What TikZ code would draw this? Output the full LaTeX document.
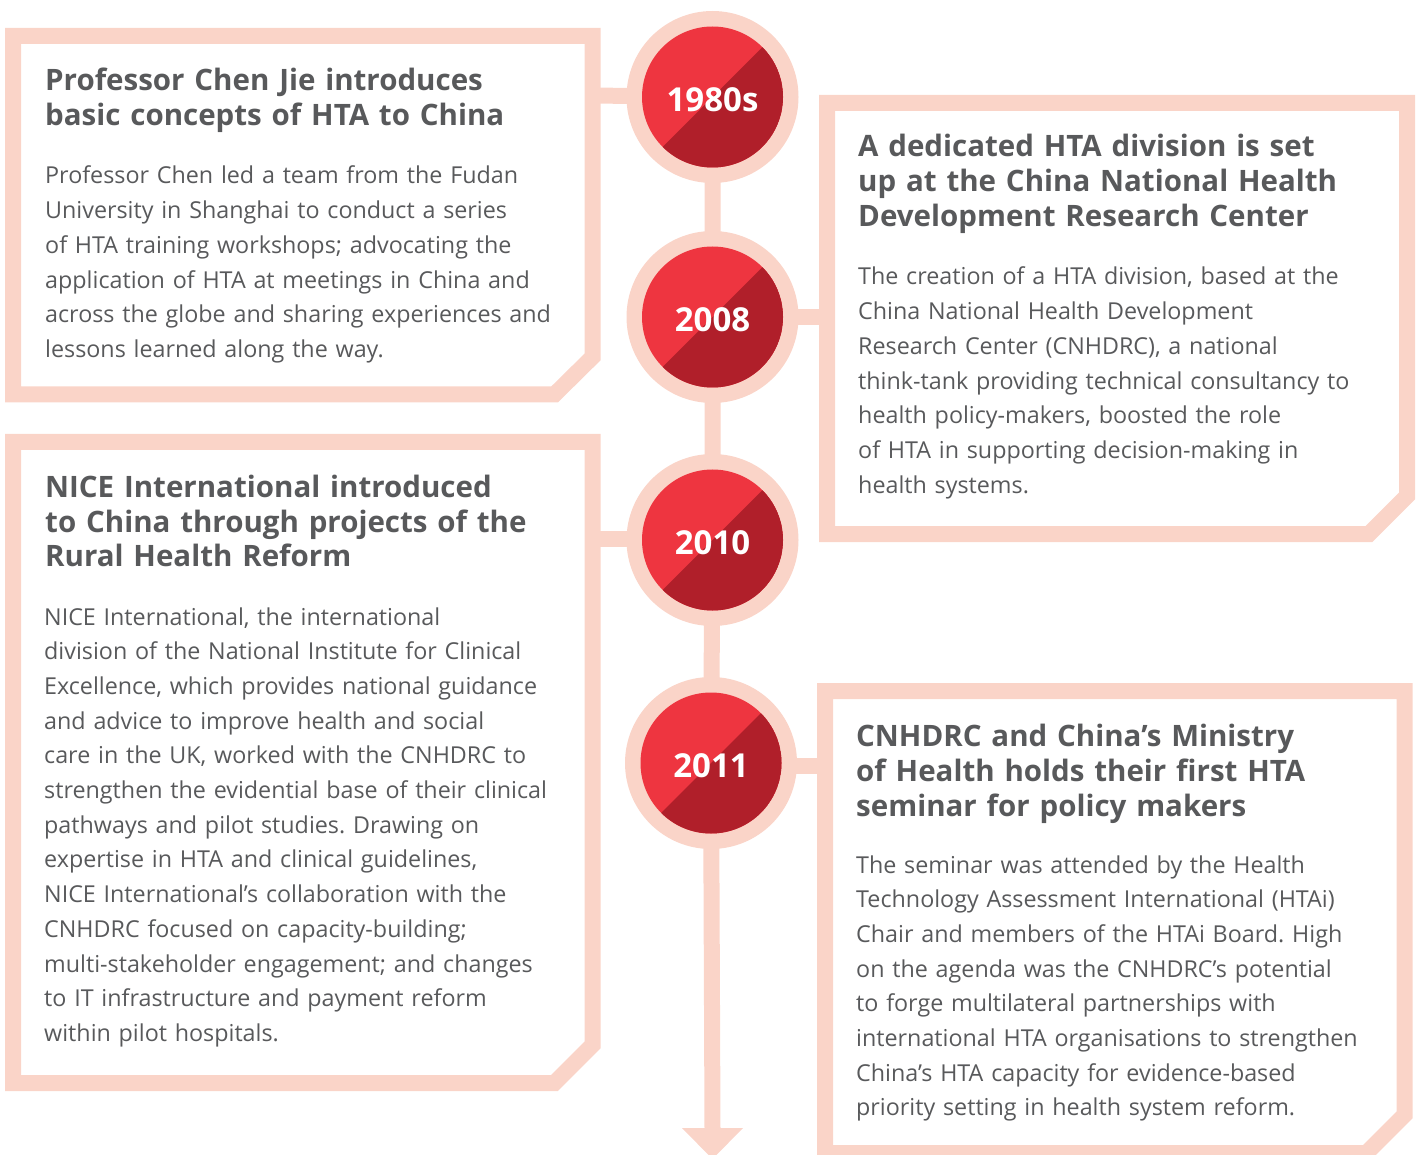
\documentclass[tikz,border=0pt]{standalone}
\usepackage{fontspec}
\setmainfont{Open Sans}
\usetikzlibrary{calc}
\frenchspacing
\definecolor{peach}{HTML}{FAD4C8}
\definecolor{lightred}{HTML}{EE3540}
\definecolor{darkred}{HTML}{B01F2A}
\definecolor{txtgray}{HTML}{58595B}
\tikzset{
  frame/.style={draw=peach,line width=16pt,miter limit=10,line join=miter},
  spine/.style={draw=peach,line width=16pt},
  ring/.style={circle,fill=peach,minimum size=172pt,inner sep=0pt},
  yeartext/.style={text=white,font=\fontsize{33}{33}\selectfont\bfseries,inner sep=0pt},
  titletext/.style={anchor=base west,inner sep=0pt,text width=600pt,align=left,text=txtgray,font=\fontsize{29.5}{35}\selectfont\bfseries},
  bodytext/.style={anchor=base west,inner sep=0pt,text width=600pt,align=left,text=txtgray,font=\fontsize{23.3}{34.7}\selectfont},
}
\newcommand{\yearcircle}[3]{%
  \node[ring] (#1) at (#2) {};
  \begin{scope}
    \clip (#1.center) circle (70.5pt);
    \fill[lightred] (#1.center) circle (71pt);
    \fill[darkred] ($(#1.center)+(100,-100)$) -- ($(#1.center)+(-100,100)$) -- ($(#1.center)+(100,100)$) -- cycle;
  \end{scope}
  \node[yeartext] (#1t) at ($(#1.center)+(0,3)$) {#3};
}
\begin{document}
\begin{tikzpicture}[x=1pt,y=-1pt]
\useasboundingbox (0,0) rectangle (1417,1155);
% boxes
\draw[frame] (13,36) -- (592.5,36) -- (592.5,357) -- (554.5,394.5) -- (13,394.5) -- cycle;
\draw[frame] (13,442) -- (592.5,442) -- (592.5,1045) -- (554.5,1083) -- (13,1083) -- cycle;
\draw[frame] (827,103) -- (1407,103) -- (1407,496) -- (1369,534) -- (827,534) -- cycle;
\draw[frame] (825,691) -- (1404.5,691) -- (1404.5,1115) -- (1366.5,1153) -- (825,1153) -- cycle;
% attachment points
\coordinate (b1) at (592.5,95.5);
\coordinate (b2) at (827,317.5);
\coordinate (b3) at (592.5,539);
\coordinate (b4) at (825,766);
\coordinate (arrowtop) at (712.5,1129);
% circles positions
\coordinate (p1) at (712.5,97);
\coordinate (p2) at (712.5,317);
\coordinate (p3) at (712.5,540);
\coordinate (p4) at (711,763);
% spine and stubs
\draw[spine] (p1) -- (p2) -- (p3) -- (p4) -- (arrowtop);
\fill[peach] (682,1128) -- (743,1128) -- (712.5,1159) -- cycle;
\draw[spine] (b1) -- (p1);
\draw[spine] (p2 |- b2) -- (b2);
\draw[spine] (b3) -- (p3 |- b3);
\draw[spine] (p4 |- b4) -- (b4);
% circles
\yearcircle{c1}{p1}{1980s}
\yearcircle{c2}{p2}{2008}
\yearcircle{c3}{p3}{2010}
\yearcircle{c4}{p4}{2011}
% texts box 1
\node[titletext] (t1) at (45,91) {Professor Chen Jie introduces\\basic concepts of HTA to China};
\node[bodytext] (d1) at (45,184) {Professor Chen led a team from the Fudan\\University in Shanghai to conduct a series\\of HTA training workshops; advocating the\\application of HTA at meetings in China and\\across the globe and sharing experiences and\\lessons learned along the way.};
% right box 1
\node[titletext] (t2) at (858,157) {A dedicated HTA division is set\\up at the China National Health\\Development Research Center};
\node[bodytext] (d2) at (858,285) {The creation of a HTA division, based at the\\China National Health Development\\Research Center (CNHDRC), a national\\think-tank providing technical consultancy to\\health policy-makers, boosted the role\\of HTA in supporting decision-making in\\health systems.};
% box 2
\node[titletext] (t3) at (45,497) {NICE International introduced\\to China through projects of the\\Rural Health Reform};
\node[bodytext] (d3) at (44,625) {NICE International, the international\\division of the National Institute for Clinical\\Excellence, which provides national guidance\\and advice to improve health and social\\care in the UK, worked with the CNHDRC to\\strengthen the evidential base of their clinical\\pathways and pilot studies. Drawing on\\expertise in HTA and clinical guidelines,\\NICE International’s collaboration with the\\CNHDRC focused on capacity-building;\\multi-stakeholder engagement; and changes\\to IT infrastructure and payment reform\\within pilot hospitals.};
% right box 2
\node[titletext] (t4) at (856,746) {CNHDRC and China’s Ministry\\of Health holds their first HTA\\seminar for policy makers};
\node[bodytext] (d4) at (856,873) {The seminar was attended by the Health\\Technology Assessment International (HTAi)\\Chair and members of the HTAi Board. High\\on the agenda was the CNHDRC’s potential\\to forge multilateral partnerships with\\international HTA organisations to strengthen\\China’s HTA capacity for evidence-based\\priority setting in health system reform.};
\end{tikzpicture}
\end{document}
